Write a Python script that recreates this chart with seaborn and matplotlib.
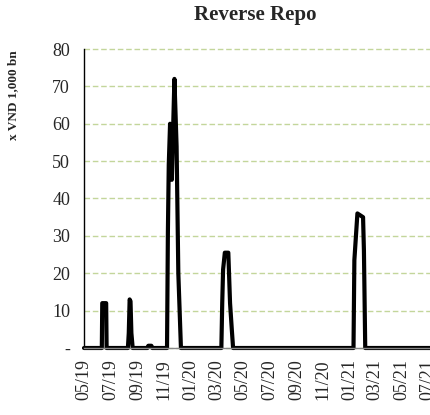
import pandas as pd
import seaborn as sns
import matplotlib
matplotlib.use('Agg')
import matplotlib.pyplot as plt

# Reverse repo outstanding, x VND 1,000 bn
dates = ['2019-05-01', '2019-06-11', '2019-06-12', '2019-06-21', '2019-06-22',
         '2019-08-10', '2019-08-12', '2019-08-14', '2019-08-16', '2019-08-18', '2019-08-21',
         '2019-09-24', '2019-09-26', '2019-10-03', '2019-10-05',
         '2019-11-08', '2019-11-10', '2019-11-12', '2019-11-15', '2019-11-19',
         '2019-11-25', '2019-11-30', '2019-12-04', '2019-12-10',
         '2020-03-12', '2020-03-14', '2020-03-16', '2020-03-20', '2020-03-28',
         '2020-04-01', '2020-04-05', '2020-04-08',
         '2021-01-10', '2021-01-12', '2021-01-19', '2021-02-01', '2021-02-03',
         '2021-02-06', '2021-07-31']
values = [0, 0, 12, 12, 0,
          0, 4, 13, 12.5, 4, 0,
          0, 0.6, 0.6, 0,
          0, 31, 49, 60, 45,
          72, 54, 20, 0,
          0, 12, 21, 25.5, 25.5,
          12, 5, 0,
          0, 23.5, 36, 35, 26,
          0, 0]

tick_labels = ['05/19', '07/19', '09/19', '11/19', '01/20', '03/20', '05/20',
               '07/20', '09/20', '11/20', '01/21', '03/21', '05/21', '07/21']
y_ticks = [0, 10, 20, 30, 40, 50, 60, 70, 80]
y_labels = ['-', '10', '20', '30', '40', '50', '60', '70', '80']

df = pd.DataFrame({'date': pd.to_datetime(dates), 'value': values})

sns.set_style('white')
plt.rcParams['font.family'] = ['Liberation Serif', 'DejaVu Serif']

fig = plt.figure(figsize=(4.3, 4.15), dpi=100)
ax = fig.add_axes([84 / 430, 1 - 348 / 415, 1 - 84 / 430, (348 - 49) / 415])

ax.yaxis.grid(True, linestyle=(0, (4, 2)), color='#c3d69b', linewidth=1, clip_on=False)
ax.set_axisbelow(True)

sns.lineplot(data=df, x='date', y='value', ax=ax, color='black', linewidth=3.0,
             clip_on=False, solid_joinstyle='round')

ax.set_ylim(0, 80)
ax.set_xlim(pd.Timestamp('2019-05-01'), pd.Timestamp('2021-07-05'))
ax.set_yticks(y_ticks)
ax.set_yticklabels(y_labels, fontsize=13)
tick_pos = [pd.to_datetime(t, format='%m/%y') for t in tick_labels]
ax.set_xticks(tick_pos)
ax.set_xticklabels(tick_labels, rotation=90, fontsize=13)
ax.set_xlabel('')
ax.set_ylabel('')
for gl in ax.get_ygridlines():
    gl.set_clip_on(False)

for s in ['top', 'right']:
    ax.spines[s].set_visible(False)
ax.spines['left'].set_color('black')
ax.spines['left'].set_linewidth(1)
ax.spines['bottom'].set_color('#868686')
ax.spines['bottom'].set_linewidth(1)
ax.tick_params(axis='y', direction='out', length=4, width=1, color='black', pad=6)
ax.tick_params(axis='x', direction='out', length=4, width=1, color='#868686', pad=4)

fig.text(255 / 430, 1 - 15 / 415, 'Reverse Repo', ha='center', va='center',
         fontsize=15, fontweight='bold')
fig.text(13.5 / 430, 1 - 95 / 415, 'x VND 1,000 bn', rotation=90, ha='center',
         va='center', fontsize=9.5, fontweight='bold')

fig.savefig('out.png', dpi=100)
